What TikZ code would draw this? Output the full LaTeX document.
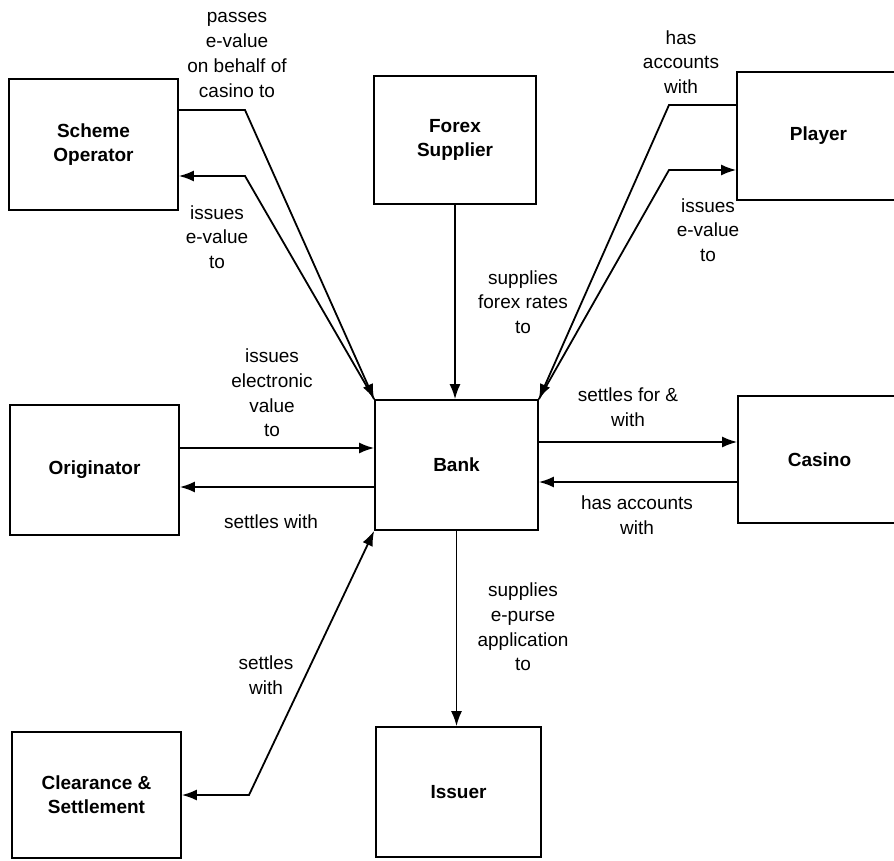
\documentclass[tikz,border=0pt]{standalone}
\usepackage{fontspec}
\setmainfont{Liberation Sans}
\usetikzlibrary{arrows.meta}
\begin{document}
\begin{tikzpicture}[x=1pt,y=-1pt,
  box/.style={draw, line width=1.7pt, align=center, inner sep=0pt,
    font=\bfseries\fontsize{19}{24}\selectfont},
  lbl/.style={align=center, inner sep=0pt, font=\fontsize{19}{24.7}\selectfont},
  arr/.style={-{Latex[length=15pt,width=11pt]}, line width=1.8pt},
  darr/.style={{Latex[length=15pt,width=11pt]}-{Latex[length=15pt,width=11pt]}, line width=1.8pt}]
\useasboundingbox (0,0) rectangle (894,861);
\clip (0,0) rectangle (894,861);
% boxes
\node[box, minimum width=169pt, minimum height=131pt] (so) at (93.5,144.5) {Scheme\\Operator};
\node[box, minimum width=162pt, minimum height=128pt] (fx) at (455,140) {Forex\\Supplier};
\node[box, minimum width=163pt, minimum height=128pt] (pl) at (818.5,136) {Player};
\node[box, minimum width=169pt, minimum height=130pt] (orig) at (94.5,470) {Originator};
\node[box, minimum width=163pt, minimum height=130pt] (bank) at (456.5,465) {Bank};
\node[box, minimum width=163pt, minimum height=127pt] (cas) at (819.5,459.5) {Casino};
\node[box, minimum width=169pt, minimum height=126pt] (cl) at (96.5,795) {Clearance \&\\Settlement};
\node[box, minimum width=165pt, minimum height=130pt] (iss) at (458.5,792) {Issuer};
% bend coordinates
\coordinate (s1) at ([yshift=34.5pt]so.east);
\coordinate (s1b) at (245,110);
\coordinate (s2) at ([yshift=-31.5pt]so.east);
\coordinate (s2b) at (245,176);
\coordinate (p1) at ([yshift=31pt]pl.west);
\coordinate (p1b) at (669,105);
\coordinate (p2) at ([yshift=-34pt]pl.west);
\coordinate (p2b) at (669,170);
\coordinate (o1) at ([yshift=22pt]orig.east);
\coordinate (o2) at ([yshift=-17pt]orig.east);
\coordinate (c1) at ([yshift=17.5pt]cas.west);
\coordinate (c2) at ([yshift=-22.5pt]cas.west);
\coordinate (clb) at (249,795);
% connectors
\draw[arr] (s1) -- (s1b) -- (bank.north west);
\draw[arr] (bank.north west) -- (s2b) -- (s2);
\draw[arr] (fx.south) -- (fx.south |- bank.north);
\draw[arr] (p1) -- (p1b) -- (bank.north east);
\draw[arr] (bank.north east) -- (p2b) -- (p2);
\draw[arr] (o1) -- (o1 -| bank.west);
\draw[arr] (o2 -| bank.west) -- (o2);
\draw[arr] (c1 -| bank.east) -- (c1);
\draw[arr] (c2) -- (c2 -| bank.east);
\draw[arr] (bank.south) -- (bank.south |- iss.north);
\draw[darr] (bank.south west) -- (clb) -- (cl.east);
% labels
\node[lbl] (l1) at (237,55) {passes\\e-value\\on behalf of\\casino to};
\node[lbl] (l2) at (217,237) {issues\\e-value\\to};
\node[lbl] (l3) at (523,302) {supplies\\forex rates\\to};
\node[lbl] (l4) at (681,62) {has\\accounts\\with};
\node[lbl] (l5) at (708,230) {issues\\e-value\\to};
\node[lbl] (l6) at (272,393) {issues\\electronic\\value\\to};
\node[lbl] (l7) at (271,522) {settles with};
\node[lbl] (l8) at (628,407) {settles for \&\\with};
\node[lbl] (l9) at (637,515) {has accounts\\with};
\node[lbl] (l10) at (523,627) {supplies\\e-purse\\application\\to};
\node[lbl] (l11) at (266,675) {settles\\with};
\end{tikzpicture}
\end{document}
